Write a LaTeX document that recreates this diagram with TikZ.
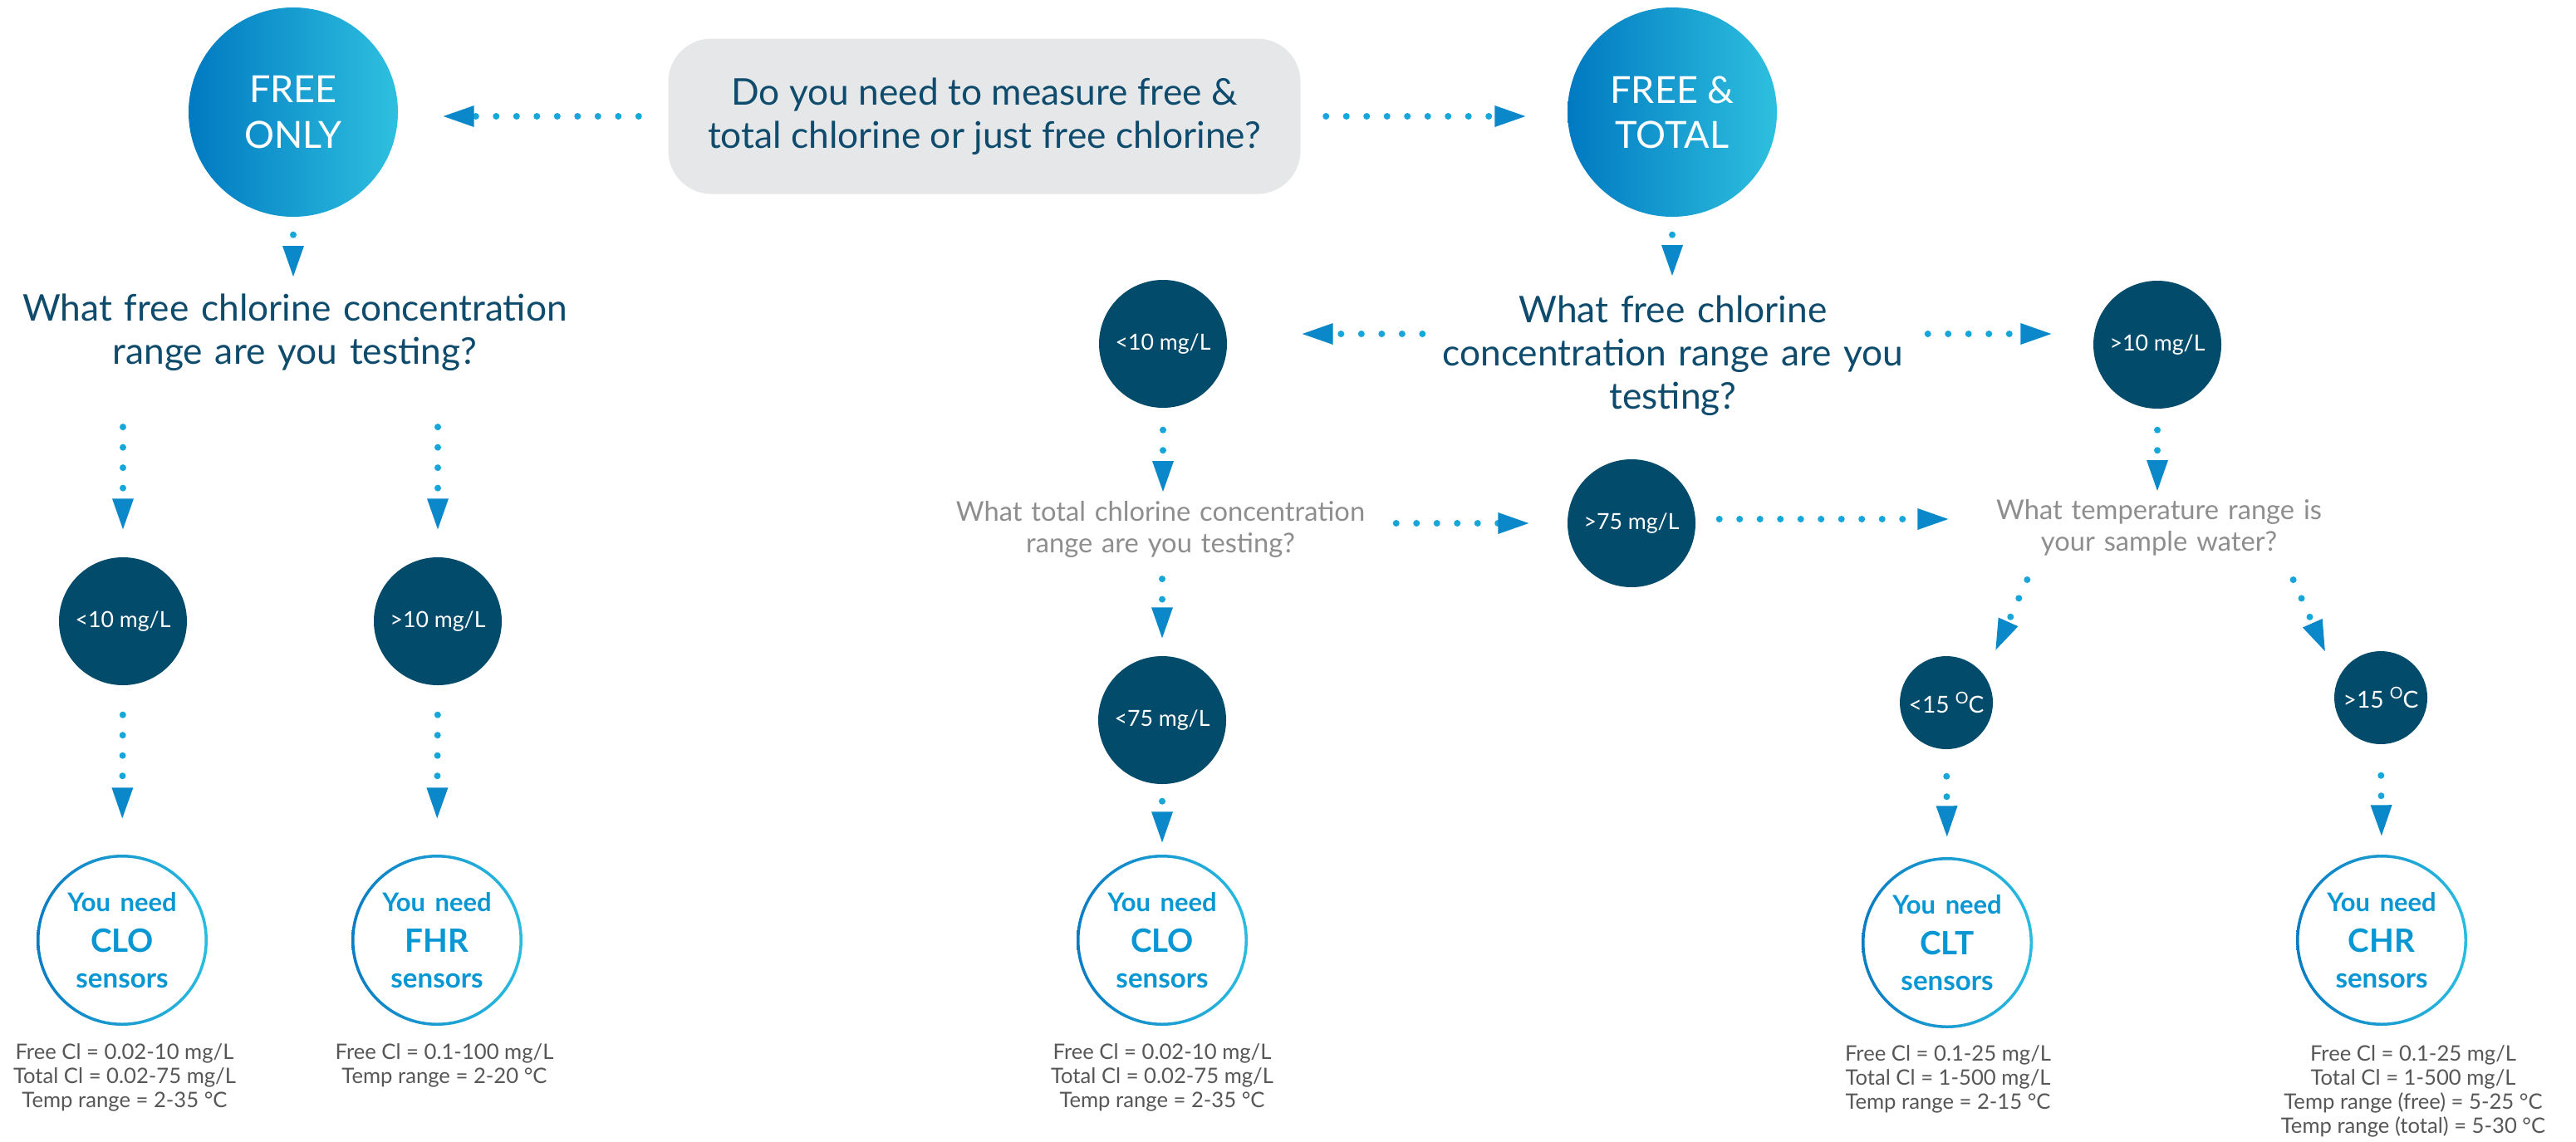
\documentclass[tikz,border=0pt]{standalone}
\usepackage{fontspec}
\setmainfont{Lato}
\usetikzlibrary{arrows.meta,calc}
\setlength{\parindent}{0pt}
\definecolor{qblue}{HTML}{0E4B6C}
\definecolor{darkc}{HTML}{034B6B}
\definecolor{gl}{HTML}{0079C1}
\definecolor{gr}{HTML}{2EC0DF}
\definecolor{ringl}{HTML}{0B7CC3}
\definecolor{ringr}{HTML}{2ABCE0}
\definecolor{dotc}{HTML}{17A6DA}
\definecolor{tipc}{HTML}{0A88CA}
\definecolor{boxc}{HTML}{E6E7E8}
\definecolor{needc}{HTML}{0997D3}
\definecolor{graytxt}{HTML}{8E8E8E}
\definecolor{spectxt}{HTML}{575757}
\tikzset{
  bigcirc/.style={circle, minimum size=2.52cm, inner sep=0pt, left color=gl, right color=gr,
    text=white, align=center, font=\fontsize{12.8}{15.4}\selectfont},
  darkcirc/.style={circle, fill=darkc, minimum size=1.54cm, inner sep=0pt, text=white,
    font=\fontsize{7.6}{9}\selectfont},
  tempcirc/.style={darkcirc, minimum size=1.12cm, font=\fontsize{8}{9}\selectfont},
  needcirc/.style={circle, minimum size=2.06cm, inner sep=0pt, text width=1.7cm, align=center,
    text=needc, font=\bfseries,
    path picture={\shade[left color=ringl, right color=ringr, even odd rule]
      (path picture bounding box.center) circle (1.03cm) circle (0.995cm);}},
  qbox/.style={rectangle, rounded corners=0.52cm, fill=boxc, minimum width=7.61cm,
    minimum height=1.87cm, inner sep=0pt, text=qblue, align=center,
    font=\fontsize{12.6}{14.8}\selectfont},
  qtext/.style={text=qblue, align=center, inner sep=0pt, font=\fontsize{12.6}{14.8}\selectfont},
  gtext/.style={text=graytxt, align=center, inner sep=0pt, font=\fontsize{9.3}{10.7}\selectfont},
  spec/.style={text=spectxt, align=center, inner sep=0pt, font=\fontsize{7.3}{8.2}\selectfont},
  dotarr/.style={draw=dotc, line width=0.08cm, line cap=round, dash pattern=on 0pt off 0.245cm,
    -{Triangle[length=0.37cm, width=0.26cm, line width=0pt, color=tipc]}},
}
\newcommand{\needtxt}[1]{{\fontsize{8.8}{10}\selectfont You need}\\[2pt]{\fontsize{11}{11.4}\selectfont #1}\\\fontsize{9.4}{11.4}\selectfont sensors}
\newcommand{\degO}{\raisebox{0.42em}{\fontsize{5.6}{6}\selectfont O}}
\begin{document}
\begin{tikzpicture}
\useasboundingbox (0,0) rectangle (31.01,-13.74);
\fill[white] (0,0) rectangle (31.01,-13.74);

% top row
\node[bigcirc] (freeonly) at (3.53,-1.35) {FREE\\ONLY};
\node[qbox] (q0) at (11.85,-1.40) {Do you need to measure free \&\\total chlorine or just free chlorine?};
\node[bigcirc] (freetotal) at (20.13,-1.35) {FREE \&\\TOTAL};

% left branch
\node[qtext, text width=7.6cm, anchor=north] (qL) at (3.55,-3.53) {What free chlorine concentration\\range are you testing?};
\node[darkcirc] (lt10L) at (1.48,-7.48) {<10 mg/L};
\node[darkcirc] (gt10L) at (5.27,-7.48) {>10 mg/L};
\node[needcirc] (cloL) at (1.47,-11.32) {\needtxt{CLO}};
\node[needcirc] (fhr) at (5.26,-11.32) {\needtxt{FHR}};
\node[spec, anchor=north] (specL1) at (1.50,-12.56) {Free Cl = 0.02-10 mg/L\\Total Cl = 0.02-75 mg/L\\Temp range = 2-35 °C};
\node[spec, anchor=north] (specL2) at (5.35,-12.56) {Free Cl = 0.1-100 mg/L\\Temp range = 2-20 °C};

% right branch
\node[qtext, text width=6.0cm, anchor=north] (qR) at (20.14,-3.55) {What free chlorine\\concentration range are you\\testing?};
\node[darkcirc] (lt10R) at (14.00,-4.14) {<10 mg/L};
\node[darkcirc] (gt10R) at (25.97,-4.15) {>10 mg/L};
\node[gtext, text width=5.2cm, anchor=north] (qT) at (13.97,-6.03) {What total chlorine concentration\\range are you testing?};
\node[darkcirc] (gt75) at (19.64,-6.30) {>75 mg/L};
\node[darkcirc] (lt75) at (13.99,-8.67) {<75 mg/L};
\node[needcirc] (cloR) at (13.99,-11.32) {\needtxt{CLO}};
\node[spec, anchor=north] (specR1) at (13.99,-12.56) {Free Cl = 0.02-10 mg/L\\Total Cl = 0.02-75 mg/L\\Temp range = 2-35 °C};
\node[gtext, text width=4.4cm, anchor=north] (qTemp) at (25.99,-6.01) {What temperature range is\\your sample water?};
\node[tempcirc] (lt15) at (23.43,-8.46) {<15 \degO C};
\node[tempcirc] (gt15) at (28.66,-8.40) {>15 \degO C};
\node[needcirc] (clt) at (23.44,-11.35) {\needtxt{CLT}};
\node[needcirc] (chr) at (28.67,-11.32) {\needtxt{CHR}};
\node[spec, anchor=north] (specCLT) at (23.45,-12.58) {Free Cl = 0.1-25 mg/L\\Total Cl = 1-500 mg/L\\Temp range = 2-15 °C};
\node[spec, anchor=north] (specCHR) at (29.05,-12.58) {Free Cl = 0.1-25 mg/L\\Total Cl = 1-500 mg/L\\Temp range (free) = 5-25 °C\\Temp range (total) = 5-30 °C};

% connectors
\draw[dotarr, shorten <=0.35cm, shorten >=0.54cm] (q0.west) -- (q0.west -| freeonly.east);
\draw[dotarr, shorten <=0.30cm, shorten >=0.50cm] (q0.east) -- (q0.east -| freetotal.west);
\draw[dotarr, shorten <=0.21cm, shorten >=0.20cm] (freeonly.south) -- (freeonly.south |- qL.north);
\draw[dotarr, shorten <=0.21cm, shorten >=0.23cm] (freetotal.south) -- (freetotal.south |- qR.north);
\draw[dotarr, shorten <=0.67cm, shorten >=0.33cm] (qL.south -| lt10L.north) -- (lt10L.north);
\draw[dotarr, shorten <=0.67cm, shorten >=0.33cm] (qL.south -| gt10L.north) -- (gt10L.north);
\draw[dotarr, shorten <=0.35cm, shorten >=0.43cm] (lt10L.south) -- (cloL.north);
\draw[dotarr, shorten <=0.35cm, shorten >=0.43cm] (gt10L.south) -- (fhr.north);
\draw[dotarr, shorten <=0.01cm, shorten >=0.90cm] ([yshift=0.12cm]lt10R.east -| qR.west) -- ([yshift=0.12cm]lt10R.east);
\draw[dotarr, shorten <=0.06cm, shorten >=0.50cm] ([yshift=0.13cm]gt10R.west -| qR.east) -- ([yshift=0.13cm]gt10R.west);
\draw[dotarr, shorten <=0.26cm, shorten >=0.11cm] (lt10R.south) -- (lt10R.south |- qT.north);
\draw[dotarr, shorten <=0.25cm, shorten >=0.21cm] (qT.south -| lt75.north) -- (lt75.north);
\draw[dotarr, shorten <=0.20cm, shorten >=0.14cm] (lt75.south) -- (cloR.north);
\draw[dotarr, shorten <=0.23cm, shorten >=0.46cm] (gt75.west -| qT.east) -- (gt75.west);
\draw[dotarr, shorten <=0.28cm, shorten >=0.33cm] ([yshift=0.05cm]gt75.east) -- ([yshift=0.05cm]gt75.east -| qTemp.west);
\draw[dotarr, shorten <=0.25cm, shorten >=0.10cm] (gt10R.south) -- (gt10R.south |- qTemp.north);
\draw[dotarr, shorten <=0.31cm, shorten >=0.33cm] ([xshift=-1.46cm]qTemp.south) -- (lt15.36);
\draw[dotarr, shorten <=0.31cm, shorten >=0.37cm] ([xshift=1.49cm]qTemp.south) -- (gt15.157);
\draw[dotarr, shorten <=0.32cm, shorten >=0.24cm] (lt15.south) -- (clt.north);
\draw[dotarr, shorten <=0.37cm, shorten >=0.22cm] (gt15.south) -- (chr.north);
\end{tikzpicture}
\end{document}
